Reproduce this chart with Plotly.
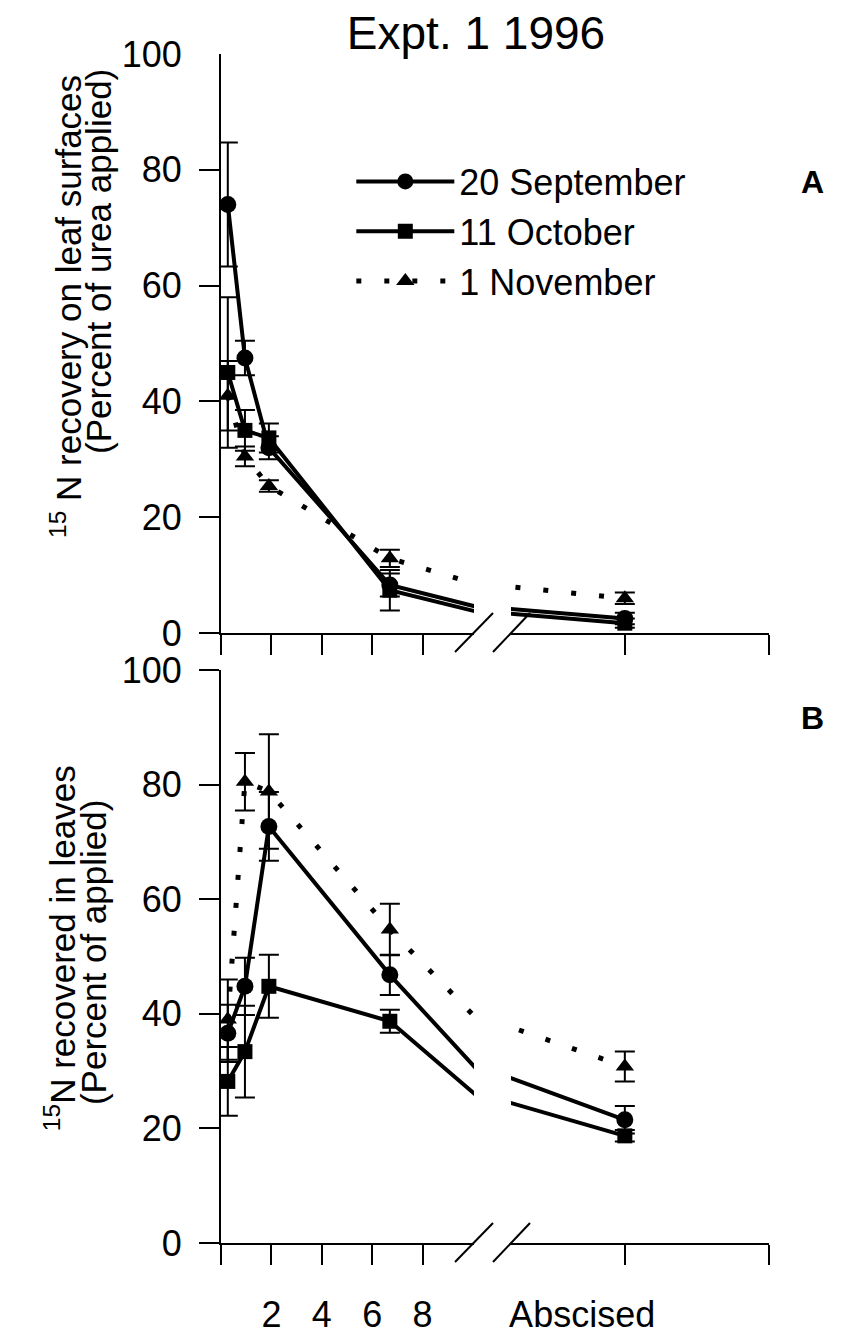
import plotly.graph_objects as go

# ---------------- data ----------------
# sampling times in days; the last one is the "Abscised" sample on the broken axis
days = [0.27, 0.95, 1.9, 6.7, 12.0]

series_names = ["20 September", "11 October", "1 November"]

# Panel A: 15N recovery on leaf surfaces (% of urea applied)
sep_A = [74.0, 47.5, 32.0, 8.3, 2.5]
sep_A_err = [10.7, 3.0, 2.0, 2.0, 1.0]
oct_A = [45.0, 35.0, 33.7, 7.4, 1.7]
oct_A_err = [13.0, 3.5, 2.5, 3.5, 0.8]
nov_A = [41.0, 30.5, 25.4, 12.9, 6.0]
nov_A_err = [6.0, 1.7, 1.0, 1.5, 1.0]

# Panel B: 15N recovered in leaves (% of applied)
sep_B = [36.6, 44.8, 72.7, 46.8, 21.5]
sep_B_err = [5.0, 5.0, 6.0, 3.5, 2.4]
oct_B = [28.2, 33.4, 44.8, 38.7, 18.7]
oct_B_err = [6.0, 8.0, 5.5, 2.0, 1.0]
nov_B = [39.0, 80.5, 78.8, 54.7, 30.8]
nov_B_err = [7.0, 5.0, 10.0, 4.5, 2.6]

y_ticks = [0, 20, 40, 60, 80, 100]
y_tick_marks_top = [0, 20, 40, 60, 80]
x_tick_marks_left = [0, 2, 4, 6, 8]
x_tick_labels_left = ["2", "4", "6", "8"]
x_tick_label_vals_left = [2, 4, 6, 8]
abscised_tick = 12.0
abscised_label = "Abscised"
abscised_label_pos = 11.43
right_end_tick = 13.92

# ---------------- styling ----------------
FONT = "Liberation Sans, Arial, Helvetica, sans-serif"
BLACK = "#000000"

styles = {
    "20 September": dict(symbol="circle", size=17, dash="solid", width=4),
    "11 October": dict(symbol="square", size=15, dash="solid", width=4),
    "1 November": dict(symbol="triangle-up", size=16, dash="5px,23px", width=5),
}

fig = go.Figure()

panels = [
    ("A", [sep_A, oct_A, nov_A], [sep_A_err, oct_A_err, nov_A_err], ("x", "y"), ("x2", "y")),
    ("B", [sep_B, oct_B, nov_B], [sep_B_err, oct_B_err, nov_B_err], ("x3", "y2"), ("x4", "y2")),
]

for pname, vals, errs, left_ax, right_ax in panels:
    for name, v, e in zip(series_names, vals, errs):
        st = styles[name]
        for k, (xa, ya) in enumerate([left_ax, right_ax]):
            fig.add_trace(go.Scatter(
                x=days, y=v,
                xaxis=xa, yaxis=ya,
                mode="lines+markers",
                name=name,
                legendgroup=name,
                showlegend=(pname == "A" and k == 0),
                line=dict(color=BLACK, width=st["width"], dash=st["dash"]),
                marker=dict(symbol=st["symbol"], size=st["size"], color=BLACK,
                            line=dict(width=0)),
                error_y=dict(type="data", array=e, visible=True, color=BLACK,
                             thickness=2, width=10),
                cliponaxis=True,
                hoverinfo="skip",
            ))

# ---------------- axes ----------------
left_dom = [0.0, 0.4617]
right_dom = [0.5292, 1.0]
top_dom = [0.5130, 1.0]
bot_dom = [0.0, 0.4819]

common_x = dict(showline=True, linecolor=BLACK, linewidth=2, showgrid=False,
                zeroline=False, ticks="", mirror=False, automargin=False,
                tickfont=dict(family=FONT, size=36, color=BLACK))

def left_x(anchor, labels):
    return dict(common_x, domain=left_dom, range=[0, 10.04], anchor=anchor,
                tickmode="array", tickvals=x_tick_label_vals_left,
                ticktext=x_tick_labels_left, showticklabels=labels,
                ticklabelstandoff=39,
                minor=dict(tickmode="array", tickvals=x_tick_marks_left,
                           ticks="outside", ticklen=20, tickwidth=2, tickcolor=BLACK,
                           showgrid=False))

def right_x(anchor, labels):
    return dict(common_x, domain=right_dom, range=[10.48, 13.925], anchor=anchor,
                tickmode="array", tickvals=[abscised_label_pos],
                ticktext=[abscised_label], showticklabels=labels,
                ticklabelstandoff=39,
                minor=dict(tickmode="array", tickvals=[abscised_tick, right_end_tick],
                           ticks="outside", ticklen=20, tickwidth=2, tickcolor=BLACK,
                           showgrid=False))

y_common = dict(range=[0, 100], showline=True, linecolor=BLACK, linewidth=2,
                showgrid=False, zeroline=False, tickmode="array", tickvals=y_ticks,
                automargin=False, tickfont=dict(family=FONT, size=36, color=BLACK))

# top panel: no tick mark at 100 (label only), bottom panel: marks at every label
yaxis_top = dict(y_common, domain=top_dom, anchor="x", ticks="",
                 ticklabelstandoff=30,
                 minor=dict(tickmode="array", tickvals=y_tick_marks_top, ticks="outside",
                            ticklen=20, tickwidth=2, tickcolor=BLACK, showgrid=False))
yaxis_bot = dict(y_common, domain=bot_dom, anchor="x3", ticks="outside", ticklen=20,
                 tickwidth=2, tickcolor=BLACK, ticklabelstandoff=10)

fig.update_layout(
    xaxis=left_x("y", False),
    xaxis2=right_x("y", False),
    xaxis3=left_x("y2", True),
    xaxis4=right_x("y2", True),
    yaxis=yaxis_top,
    yaxis2=yaxis_bot,
)

# axis-break slashes, anchored at the ends of the broken axis segments
for ya0 in [top_dom[0], bot_dom[0]]:
    fig.add_shape(type="line", xref="paper", yref="paper", xsizemode="pixel", ysizemode="pixel",
                  xanchor=left_dom[1], yanchor=ya0, x0=-19, x1=19, y0=-19, y1=20,
                  line=dict(color=BLACK, width=2))
    fig.add_shape(type="line", xref="paper", yref="paper", xsizemode="pixel", ysizemode="pixel",
                  xanchor=right_dom[0], yanchor=ya0, x0=-18, x1=19, y0=-19, y1=20,
                  line=dict(color=BLACK, width=2))

# ---------------- text ----------------
def note(text, x, y, size, angle=0):
    fig.add_annotation(text=text, xref="paper", yref="paper", x=x, y=y,
                       xanchor="center", yanchor="middle", textangle=angle,
                       showarrow=False, font=dict(family=FONT, size=size, color=BLACK))

note("<b>A</b>", 1.0785, 0.8923, 32)
note("<b>B</b>", 1.0785, 0.4415, 32)
note("<sup>15</sup> N recovery on leaf surfaces", -0.2829, 0.7881, 35, -90)
note("(Percent of urea applied)", -0.2226, 0.8251, 35, -90)
note("<sup>15</sup>N recovered in leaves", -0.2938, 0.2480, 35, -90)
note("(Percent of applied)", -0.2336, 0.2447, 35, -90)

fig.update_layout(
    width=847, height=1331,
    margin=dict(l=213, r=86, t=46, b=96),
    paper_bgcolor="white", plot_bgcolor="white",
    title=dict(text="Expt. 1 1996", x=468 / 847, xanchor="center",
               y=1 - 25 / 1331, yanchor="middle", yref="container",
               font=dict(family=FONT, size=46, color=BLACK)),
    showlegend=True,
    legend=dict(x=0.2378, y=0.918, xanchor="left", yanchor="top",
                bgcolor="rgba(0,0,0,0)", borderwidth=0,
                font=dict(family=FONT, size=36, color=BLACK),
                itemwidth=98, itemsizing="trace", tracegroupgap=0),
)

fig.write_html("out.html")
